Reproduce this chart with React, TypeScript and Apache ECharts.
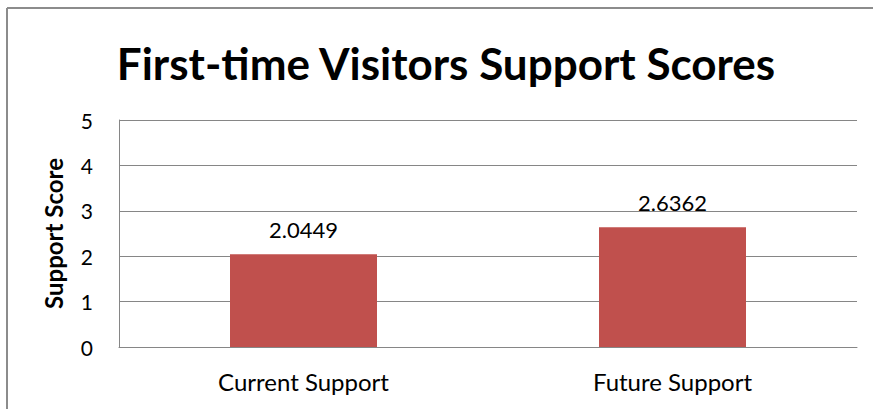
import React, { useEffect, useRef } from "react";
import * as echarts from "echarts";

const categories = ["Current Support", "Future Support"];
const scores = [2.0449, 2.6362];
const titleText = "First-time Visitors Support Scores";
const yAxisName = "Support Score";

export default function App() {
  const ref = useRef<HTMLDivElement>(null);
  useEffect(() => {
    if (!ref.current) return;
    const chart = echarts.init(ref.current, null, { renderer: "svg" });
    const font = "Lato, 'Open Sans', sans-serif";
    chart.setOption({
      animation: false,
      backgroundColor: "#ffffff",
      title: {
        text: titleText,
        left: 441,
        textAlign: "center",
        top: 36,
        textStyle: { fontFamily: font, fontWeight: "bold", fontSize: 44, color: "#000" },
      },
      grid: { left: 119, right: 16, top: 120, bottom: 62 },
      xAxis: {
        type: "category",
        data: categories,
        axisLine: { show: true, lineStyle: { color: "#868686", width: 1 } },
        axisTick: { show: false },
        axisLabel: { margin: 22, fontFamily: font, fontSize: 24, color: "#000" },
      },
      yAxis: {
        type: "value",
        min: 0,
        max: 5,
        interval: 1,
        name: yAxisName,
        nameLocation: "middle",
        nameGap: 54,
        nameTextStyle: { fontFamily: font, fontWeight: "bold", fontSize: 24, color: "#000" },
        axisLine: { show: true, lineStyle: { color: "#868686", width: 1 } },
        axisTick: { show: false },
        axisLabel: { margin: 26, fontFamily: font, fontSize: 21, color: "#000" },
        splitLine: { show: true, lineStyle: { color: "#868686", width: 1 } },
      },
      series: [
        {
          type: "bar",
          data: scores,
          barWidth: 147,
          itemStyle: { color: "#C0504D" },
          label: {
            show: true,
            position: "top",
            distance: 14,
            fontFamily: font,
            fontSize: 22,
            color: "#000",
            formatter: (p: any) => String(p.value),
          },
        },
      ],
      graphic: [
        {
          type: "line",
          shape: { x1: 7, y1: 8, x2: 873, y2: 8 },
          style: { stroke: "#8c8c8c", lineWidth: 2 },
          silent: true,
        },
        {
          type: "line",
          shape: { x1: 7, y1: 8, x2: 7, y2: 409 },
          style: { stroke: "#8c8c8c", lineWidth: 2 },
          silent: true,
        },
      ],
    });
    return () => chart.dispose();
  }, []);
  return (
    <div
      ref={ref}
      style={{ position: "fixed", left: 0, top: 0, width: 873, height: 409 }}
    />
  );
}
